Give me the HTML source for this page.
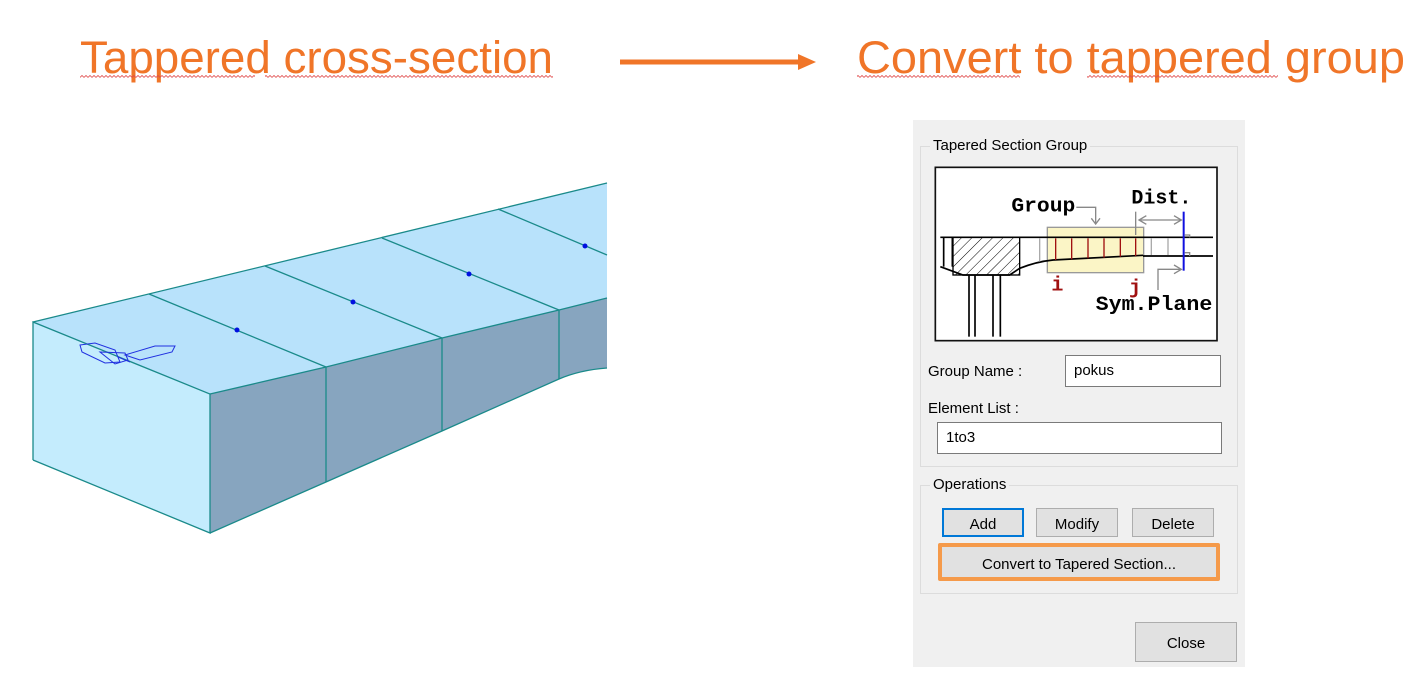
<!DOCTYPE html>
<html><head><meta charset="utf-8"><style>
html,body{margin:0;padding:0;background:#fff;}
body{width:1425px;height:681px;position:relative;overflow:hidden;font-family:"Liberation Sans",sans-serif;}
.abs{position:absolute;box-sizing:border-box;}
.gb{border:1px solid #dcdcdc;}
.lbl{font-size:15px;color:#000;white-space:nowrap;}
.tb{background:#fff;border:1px solid #7a7a7a;font-size:15px;padding:6px 0 0 8px;}
.btn{background:#e1e1e1;border:1px solid #adadad;font-size:15px;text-align:center;}
</style></head><body>
<svg class="abs" style="left:0;top:0" width="1425" height="681">
<defs><pattern id="zz" width="4" height="3" patternUnits="userSpaceOnUse"><polyline points="0,2.5 2,0.5 4,2.5" stroke="#e04848" stroke-width="0.8" fill="none"/></pattern></defs>
<text x="80" y="73" font-family="Liberation Sans" font-size="45" fill="#f07528" textLength="473" lengthAdjust="spacingAndGlyphs">Tappered cross-section</text>
<text x="857" y="73" font-family="Liberation Sans" font-size="45" fill="#f07528" textLength="548" lengthAdjust="spacingAndGlyphs">Convert to tappered group</text>
<rect x="80" y="75" width="175" height="3" fill="url(#zz)"/>
<rect x="265" y="75" width="288" height="3" fill="url(#zz)"/>
<rect x="857" y="75" width="163" height="3" fill="url(#zz)"/>
<rect x="1087" y="75" width="191" height="3" fill="url(#zz)"/>
<line x1="620" y1="62" x2="800" y2="62" stroke="#f07528" stroke-width="5"/>
<polygon points="798,54 816,62 798,70" fill="#f07528"/>
<polygon points="33,322 210,394 210,533 33,460" fill="#c4ecfd"/>
<polygon points="33,322 607,183 607,298 559,310 442,338 326,367 210,394" fill="#b8e2fb"/>
<path d="M210,394 L326,367 L442,338 L559,310 L607,298 L607,368 Q580,370 559,379 L442,431 L326,482 L210,533 Z" fill="#87a5bf"/>
<g stroke="#1a8a8a" stroke-width="1.3" fill="none">
<polyline points="33,460 33,322 210,394 210,533 33,460"/>
<line x1="33" y1="322" x2="607" y2="183"/>
<polyline points="210,394 326,367 442,338 559,310 607,298"/>
<path d="M210,533 L326,482 L442,431 L559,379 Q580,370 607,368"/>
<line x1="149" y1="294" x2="326" y2="367"/><line x1="265" y1="266" x2="442" y2="338"/>
<line x1="382" y1="238" x2="559" y2="310"/><line x1="498" y1="209" x2="607" y2="255"/>
<line x1="326" y1="367" x2="326" y2="482"/><line x1="442" y1="338" x2="442" y2="431"/><line x1="559" y1="310" x2="559" y2="379"/>
</g>
<g fill="#0010e0"><circle cx="237" cy="330" r="2.5"/><circle cx="353" cy="302" r="2.5"/><circle cx="469" cy="274" r="2.5"/><circle cx="585" cy="246" r="2.5"/></g>
<g stroke="#2030e0" stroke-width="1" fill="none">
<polygon points="80,345 95,343 115,350 120,362 105,363 82,352"/>
<polygon points="100,352 125,353 128,360 115,364"/>
<polygon points="125,355 155,346 175,346 172,352 140,360"/>
<line x1="118" y1="357" x2="130" y2="362"/>
</g>
</svg>
<div class="abs" style="left:913px;top:120px;width:332px;height:547px;background:#f0f0f0;"></div>
<div class="abs gb" style="left:920px;top:146px;width:318px;height:321px;"></div>
<div class="abs lbl" style="left:930px;top:137px;background:#f0f0f0;padding:0 3px;">Tapered Section Group</div>
<svg class="abs" style="left:913px;top:120px" width="332" height="230" viewBox="0 0 996 690">
<rect x="67" y="142" width="845" height="520" fill="#fff" stroke="#111" stroke-width="5"/>
<defs><pattern id="h" width="22" height="22" patternUnits="userSpaceOnUse" patternTransform="rotate(45)"><line x1="0" y1="0" x2="0" y2="22" stroke="#000" stroke-width="3"/></pattern></defs>
<rect x="403" y="322" width="289" height="136" fill="#fbf5c6" stroke="#999" stroke-width="4"/>
<rect x="120" y="352" width="200" height="113" fill="url(#h)" stroke="#000" stroke-width="4"/>
<g stroke="#000" stroke-width="5" fill="none">
<line x1="82" y1="352" x2="900" y2="352"/>
<line x1="690" y1="408" x2="900" y2="408"/>
<path d="M320,445 Q370,425 420,420 L690,406"/>
<polyline points="82,440 150,465 290,465 320,445"/>
<line x1="92" y1="352" x2="92" y2="440"/><line x1="118" y1="352" x2="118" y2="440"/>
<line x1="168" y1="465" x2="168" y2="650"/><line x1="186" y1="465" x2="186" y2="650"/>
<line x1="240" y1="465" x2="240" y2="650"/><line x1="262" y1="465" x2="262" y2="650"/>
</g>
<g stroke="#aaa" stroke-width="4"><line x1="380" y1="355" x2="380" y2="425"/><line x1="715" y1="355" x2="715" y2="405"/><line x1="765" y1="355" x2="765" y2="405"/></g>
<g stroke="#a01010" stroke-width="4"><line x1="428" y1="355" x2="428" y2="420"/><line x1="476" y1="355" x2="476" y2="418"/><line x1="525" y1="355" x2="525" y2="415"/><line x1="573" y1="355" x2="573" y2="413"/><line x1="622" y1="355" x2="622" y2="410"/><line x1="668" y1="355" x2="668" y2="408"/></g>
<line x1="812" y1="275" x2="812" y2="452" stroke="#1010e0" stroke-width="6"/>
<g stroke="#888" stroke-width="4" fill="none">
<polyline points="490,262 548,262 548,312"/><polyline points="535,295 548,312 561,295"/>
<line x1="668" y1="275" x2="668" y2="345"/>
<line x1="678" y1="300" x2="805" y2="300"/><polyline points="700,287 678,300 700,313"/><polyline points="783,287 805,300 783,313"/>
<polyline points="735,510 735,448 805,448"/><polyline points="783,435 805,448 783,461"/>
<polyline points="815,345 830,345 830,352"/><polyline points="815,398 830,398 830,408"/>
</g>
<g font-family="Liberation Mono" font-weight="bold" font-size="60">
<text x="295" y="275" textLength="192" lengthAdjust="spacingAndGlyphs">Group</text>
<text x="655" y="250" textLength="180" lengthAdjust="spacingAndGlyphs">Dist.</text>
<text x="548" y="570" textLength="350" lengthAdjust="spacingAndGlyphs">Sym.Plane</text>
<text x="415" y="512" fill="#a01010">i</text><text x="648" y="520" fill="#a01010">j</text>
</g>
</svg>
<div class="abs lbl" style="left:928px;top:363px;">Group Name :</div>
<div class="abs tb" style="left:1065px;top:355px;width:156px;height:32px;">pokus</div>
<div class="abs lbl" style="left:928px;top:400px;">Element List :</div>
<div class="abs tb" style="left:937px;top:422px;width:285px;height:32px;">1to3</div>
<div class="abs gb" style="left:920px;top:485px;width:318px;height:109px;"></div>
<div class="abs lbl" style="left:930px;top:476px;background:#f0f0f0;padding:0 3px;">Operations</div>
<div class="abs btn" style="left:942px;top:508px;width:82px;height:29px;border:2px solid #0078d7;padding-top:6px;">Add</div>
<div class="abs btn" style="left:1036px;top:508px;width:82px;height:29px;padding-top:7px;">Modify</div>
<div class="abs btn" style="left:1132px;top:508px;width:82px;height:29px;padding-top:7px;">Delete</div>
<div class="abs btn" style="left:938px;top:543px;width:282px;height:38px;border:4px solid #f59a4a;border-radius:2px;padding-top:9px;">Convert to Tapered Section...</div>
<div class="abs btn" style="left:1135px;top:622px;width:102px;height:40px;padding-top:12px;">Close</div>
</body></html>
